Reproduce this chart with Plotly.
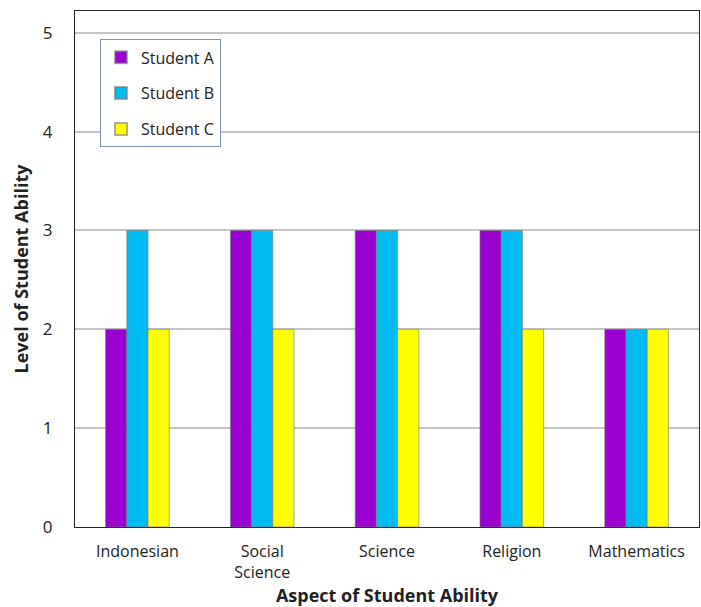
import plotly.graph_objects as go

categories = ["Indonesian", "Social<br>Science", "Science", "Religion", "Mathematics"]
student_a = [2, 3, 3, 3, 2]
student_b = [3, 3, 3, 3, 2]
student_c = [2, 2, 2, 2, 2]
series_names = ["Student A", "Student B", "Student C"]
colors = ["#9B00D3", "#00BCF2", "#FFFF00"]
y_ticks = [0, 1, 2, 3, 4, 5]

fig = go.Figure()
for name, vals, col in zip(series_names, [student_a, student_b, student_c], colors):
    fig.add_trace(go.Bar(
        name=name, x=categories, y=vals, legendgroup=name,
        marker=dict(color=col, line=dict(color="rgba(120,120,120,0.6)", width=1)),
    ))

font_family = "Open Sans, Noto Sans, sans-serif"
fig.update_layout(
    width=701, height=607,
    margin=dict(l=75, r=2, t=11, b=80),
    paper_bgcolor="white", plot_bgcolor="white",
    barmode="group", bargap=0.49, bargroupgap=0,
    font=dict(family=font_family, size=16, color="#222"),
    showlegend=True,
    legend=dict(
        x=0.04, y=0.945, xanchor="left", yanchor="top",
        bgcolor="white", bordercolor="#7F93B5", borderwidth=1,
        font=dict(size=16, color="#222"),
        itemsizing="constant", tracegroupgap=12, traceorder="grouped",
    ),
    xaxis=dict(
        showline=True, linecolor="#222", linewidth=1, mirror=True, automargin=False,
        showgrid=False, ticks="", tickfont=dict(size=16), ticklabelstandoff=10,
    ),
    yaxis=dict(
        range=[0, 5.22], tickvals=y_ticks, showgrid=True, gridcolor="#C4C4C4",
        gridwidth=1.5, showline=True, linecolor="#222", linewidth=1, mirror=True,
        automargin=False,
        ticks="", ticklabelstandoff=18, tickfont=dict(size=17), zeroline=False,
    ),
    xaxis_title=dict(text="<b>Aspect of Student Ability</b>", font=dict(size=18), standoff=14),
    yaxis_title=dict(text="<b>Level of Student Ability</b>", font=dict(size=18), standoff=9),
)

fig.write_html("out.html")
